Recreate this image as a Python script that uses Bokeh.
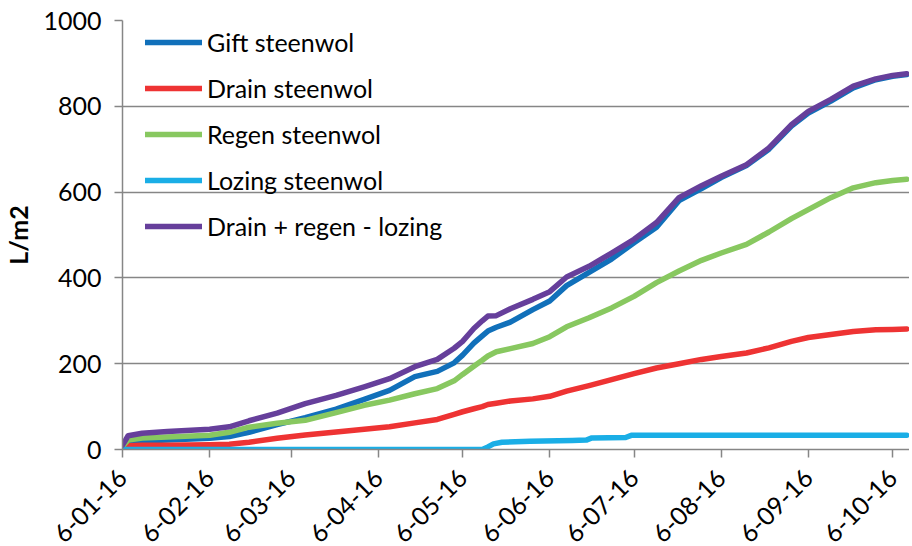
import numpy as np
from bokeh.plotting import figure
from bokeh.models import FixedTicker, Legend, LegendItem, Range1d
from bokeh.embed import file_html
from bokeh.resources import INLINE

FONT = "Lato"

# ---- data -------------------------------------------------------------
tick_dates = ["2016-01-06", "2016-02-06", "2016-03-06", "2016-04-06", "2016-05-06",
              "2016-06-06", "2016-07-06", "2016-08-06", "2016-09-06", "2016-10-06"]
tick_labels = ["6-01-16", "6-02-16", "6-03-16", "6-04-16", "6-05-16",
               "6-06-16", "6-07-16", "6-08-16", "6-09-16", "6-10-16"]

# days since 6-01-16
days = [0, 2, 7, 16, 31, 38, 45, 55, 65, 76, 86, 95, 104, 112, 118, 121, 125, 128, 130, 133,
        138, 146, 152, 158, 166, 174, 182, 190, 198, 206, 213, 222, 230, 238, 244, 252, 260, 268, 274, 279]

gift = [7, 17, 20, 22, 26, 30, 40, 58, 74, 94, 117, 138, 170, 182, 202, 220, 248, 265, 276, 285,
        297, 326, 346, 382, 413, 444, 482, 518, 580, 608, 634, 662, 700, 754, 784, 812, 843, 862, 870, 874]
drain = [5, 9, 10, 10, 11, 12, 17, 26, 34, 41, 47, 53, 62, 70, 82, 88, 95, 100, 105, 108,
         113, 118, 124, 136, 149, 163, 177, 190, 200, 210, 217, 225, 237, 252, 261, 268, 275, 279, 280, 281]
regen = [8, 22, 27, 29, 33, 40, 52, 61, 68, 86, 103, 115, 130, 142, 160, 175, 194, 208, 218, 228,
         235, 247, 263, 286, 307, 330, 357, 389, 416, 441, 458, 478, 507, 538, 559, 587, 610, 622, 627, 630]
balance = [10, 32, 38, 42, 47, 53, 67, 85, 107, 126, 146, 165, 193, 210, 236, 252, 282, 300, 311, 312,
           328, 350, 368, 402, 427, 458, 490, 529, 587, 615, 637, 664, 703, 757, 788, 816, 847, 864, 872, 876]

lozing_days = [0, 128, 130, 132, 135, 145, 160, 165, 167, 179, 181, 279]
lozing = [0, 0, 6, 13, 17, 19, 21, 22, 27, 28, 33, 33]

y_ticks = [0, 200, 400, 600, 800, 1000]

series_names = ["Gift steenwol", "Drain steenwol", "Regen steenwol",
                "Lozing steenwol", "Drain + regen - lozing"]
colors = ["#1170BA", "#EE3333", "#88C860", "#1AAEE6", "#663F9B"]

# ---- figure -----------------------------------------------------------
start = np.datetime64("2016-01-06")
tick_days = [int((np.datetime64(d) - start) / np.timedelta64(1, "D")) for d in tick_dates]

p = figure(frame_width=787, frame_height=429, output_backend="svg", toolbar_location=None,
           x_range=Range1d(0, 280), y_range=Range1d(0, 1000))
p.min_border_left = 117
p.min_border_right = 0
p.min_border_top = 20
p.min_border_bottom = 60
p.outline_line_color = None
p.background_fill_color = "white"
p.border_fill_color = "white"

xy = [(days, gift), (days, drain), (days, regen), (lozing_days, lozing), (days, balance)]
renderers = []
for (xs, ys), c in zip(xy, colors):
    r = p.line(xs, ys, line_color=c, line_width=5.5, line_join="round", line_cap="round")
    renderers.append(r)

legend = Legend(items=[LegendItem(label=n, renderers=[r]) for n, r in zip(series_names, renderers)],
                location=(23, 200), margin=0, padding=0, spacing=0,
                glyph_width=57, glyph_height=46, label_height=46, label_standoff=5,
                label_text_font=FONT, label_text_font_size="25px", label_text_color="black",
                border_line_color=None, background_fill_alpha=0)
p.add_layout(legend, "center")

# axes
p.xaxis.ticker = FixedTicker(ticks=tick_days)
p.xaxis.major_label_overrides = {d: l for d, l in zip(tick_days, tick_labels)}
p.xaxis.major_label_orientation = np.pi / 4
p.yaxis.ticker = FixedTicker(ticks=y_ticks)
p.yaxis.axis_label = "L/m2"

for ax in (p.xaxis, p.yaxis):
    ax.axis_line_color = "#868686"
    ax.axis_line_width = 1.5
    ax.major_tick_line_color = "#868686"
    ax.major_tick_line_width = 1.5
    ax.major_tick_out = 8
    ax.major_tick_in = 0
    ax.minor_tick_line_color = None
    ax.major_label_text_font = FONT
    ax.major_label_text_font_size = "25px"
    ax.major_label_text_color = "black"

p.yaxis.major_label_standoff = 13
p.xaxis.major_label_standoff = 16
p.yaxis.axis_label_text_font = FONT
p.yaxis.axis_label_text_font_size = "25px"
p.yaxis.axis_label_text_font_style = "bold"
p.yaxis.axis_label_text_color = "black"
p.yaxis.axis_label_standoff = 7

p.xgrid.grid_line_color = None
p.ygrid.ticker = FixedTicker(ticks=y_ticks[1:])
p.ygrid.grid_line_color = "#868686"
p.ygrid.grid_line_width = 1.5

open("out.html", "w").write(file_html(p, INLINE))
